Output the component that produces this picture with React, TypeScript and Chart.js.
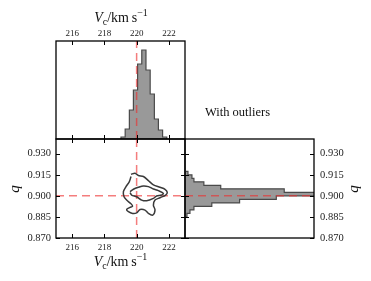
import React, { useEffect, useRef } from "react";
import { Chart, registerables } from "chart.js";

Chart.register(...registerables);

// ---------------- data ----------------
const vcTicks = [216, 218, 220, 222];
const qTicks = [0.87, 0.885, 0.9, 0.915, 0.93];
const vcMin = 215;
const vcMax = 223;
const qMin = 0.87;
const qMax = 0.9405;
const vcTrue = 220;
const qTrue = 0.9;

// V_c marginal histogram (bin edges + counts)
const vcBinEdges = [219.03, 219.29, 219.55, 219.8, 220.06, 220.32, 220.58, 220.84, 221.1, 221.35, 221.61, 221.87];
const vcCounts = [2, 10, 29, 49, 75, 89, 69, 45, 20, 9, 2];
const vcCountMax = 98;

// q marginal histogram (bin edges + counts)
const qBinEdges = [0.885, 0.8875, 0.89, 0.8925, 0.895, 0.8975, 0.9, 0.9025, 0.905, 0.9075, 0.91, 0.9125, 0.915, 0.9175];
const qCounts = [2, 5, 9, 27, 55, 92, 145, 100, 36, 19, 9, 7, 3];
const qCountMax = 130;

// contour levels (closed curves)
const outerV = [219.65, 219.9, 220.11, 220.42, 220.73, 221.04, 221.45, 221.76, 221.9, 221.8, 221.45, 221.14, 221.04, 221.14, 221.0, 220.73, 220.52, 220.21, 220.0, 219.75, 219.49, 219.38, 219.59, 219.75, 219.63, 219.38, 219.22, 219.18, 219.34, 219.55, 219.65];
const outerQ = [0.9154, 0.9161, 0.9145, 0.9138, 0.9109, 0.9078, 0.9061, 0.9047, 0.9025, 0.9006, 0.8987, 0.897, 0.8934, 0.8899, 0.8863, 0.8875, 0.8899, 0.8903, 0.8879, 0.8875, 0.8887, 0.8903, 0.8918, 0.8927, 0.8946, 0.897, 0.8994, 0.903, 0.9066, 0.9102, 0.9138];
const innerV = [219.59, 219.8, 220.11, 220.42, 220.73, 221.04, 221.35, 221.66, 221.55, 221.24, 221.04, 220.62, 220.31, 220.0, 219.69, 219.59];
const innerQ = [0.903, 0.9047, 0.9061, 0.9071, 0.9066, 0.9049, 0.9037, 0.9018, 0.9006, 0.8999, 0.8982, 0.8965, 0.897, 0.8994, 0.9006, 0.9023];

const annotationText = "With outliers";

// ---------------- helpers ----------------
const W = 371;
const H = 281;
const RED = "rgba(238,45,45,0.62)";
const HIST_FILL = "rgba(0,0,0,0.4)";
const HIST_EDGE = "#4a4a4a";
const CONTOUR = "#3a3a3a";
const TICK_FONT_X = { family: "'Liberation Serif', serif", size: 9 };
const TICK_FONT_Y = { family: "'Liberation Serif', serif", size: 10.5 };

function histVertical(edges: number[], counts: number[]) {
  const pts: { x: number; y: number }[] = [{ x: edges[0], y: 0 }];
  counts.forEach((c, i) => {
    pts.push({ x: edges[i], y: c });
    pts.push({ x: edges[i + 1], y: c });
  });
  pts.push({ x: edges[edges.length - 1], y: 0 });
  return pts;
}

function histHorizontal(edges: number[], counts: number[]) {
  const pts: { x: number; y: number }[] = [{ x: 0, y: edges[0] }];
  counts.forEach((c, i) => {
    pts.push({ x: c, y: edges[i] });
    pts.push({ x: c, y: edges[i + 1] });
  });
  pts.push({ x: 0, y: edges[edges.length - 1] });
  pts.push({ x: 0, y: edges[0] });
  return pts;
}

function zip(xs: number[], ys: number[]) {
  return xs.map((x, i) => ({ x, y: ys[i] }));
}

function framePlugin(sides: { xTop?: boolean; xBottom?: boolean; yLeft?: boolean; yRight?: boolean }) {
  return {
    id: "frameTicks",
    afterDraw(chart: any) {
      const { ctx, chartArea: a, scales } = chart;
      const tl = 4;
      ctx.save();
      ctx.strokeStyle = "#000";
      ctx.lineWidth = 1;
      if (sides.xTop || sides.xBottom) {
        for (const t of scales.x.ticks) {
          const px = Math.round(scales.x.getPixelForValue(t.value)) + 0.5;
          ctx.beginPath();
          if (sides.xTop) {
            ctx.moveTo(px, a.top);
            ctx.lineTo(px, a.top + tl);
          }
          if (sides.xBottom) {
            ctx.moveTo(px, a.bottom);
            ctx.lineTo(px, a.bottom - tl);
          }
          ctx.stroke();
        }
      }
      if (sides.yLeft || sides.yRight) {
        for (const t of scales.y.ticks) {
          const py = Math.round(scales.y.getPixelForValue(t.value)) + 0.5;
          ctx.beginPath();
          if (sides.yLeft) {
            ctx.moveTo(a.left, py);
            ctx.lineTo(a.left + tl, py);
          }
          if (sides.yRight) {
            ctx.moveTo(a.right, py);
            ctx.lineTo(a.right - tl, py);
          }
          ctx.stroke();
        }
      }
      ctx.lineWidth = 1.3;
      ctx.strokeRect(a.left, a.top, a.right - a.left, a.bottom - a.top);
      ctx.restore();
    },
  };
}

const lineDs = (data: any[], color: string, width: number, extra: any = {}) => ({
  data,
  showLine: true,
  borderColor: color,
  borderWidth: width,
  pointRadius: 0,
  fill: false,
  ...extra,
});

const baseOpts = {
  responsive: false,
  maintainAspectRatio: false,
  animation: false as const,
  events: [] as any[],
  plugins: { legend: { display: false }, tooltip: { enabled: false } },
};

function TopHist() {
  const ref = useRef<HTMLCanvasElement>(null);
  useEffect(() => {
    const chart = new Chart(ref.current!, {
      type: "scatter",
      data: {
        datasets: [
          lineDs(
            [
              { x: vcTrue, y: 0 },
              { x: vcTrue, y: vcCountMax },
            ],
            RED,
            1.5,
            { borderDash: [8, 5] }
          ),
          lineDs(histVertical(vcBinEdges, vcCounts), HIST_EDGE, 1.2, {
            fill: "origin",
            backgroundColor: HIST_FILL,
          }),
        ],
      },
      options: {
        ...baseOpts,
        layout: { padding: { left: 56, top: 0, right: W - 185, bottom: H - 139 } },
        scales: {
          x: {
            type: "linear",
            position: "top",
            min: vcMin,
            max: vcMax,
            afterBuildTicks: (s: any) => {
              s.ticks = vcTicks.map((v) => ({ value: v }));
            },
            afterFit: (s: any) => {
              s.height = 41;
            },
            grid: { display: false, drawTicks: false },
            border: { display: false },
            ticks: {
              padding: 2,
              autoSkip: false,
              maxRotation: 0,
              font: TICK_FONT_X,
              color: "#222",
              callback: (v: any) => Number(v).toFixed(0),
            },
          },
          y: { type: "linear", display: false, min: 0, max: vcCountMax },
        },
      } as any,
      plugins: [framePlugin({ xTop: true, xBottom: true })],
    });
    return () => chart.destroy();
  }, []);
  return <canvas ref={ref} width={W} height={H} style={{ position: "absolute", left: 0, top: 0 }} />;
}

function Joint() {
  const ref = useRef<HTMLCanvasElement>(null);
  useEffect(() => {
    const chart = new Chart(ref.current!, {
      type: "scatter",
      data: {
        datasets: [
          lineDs(zip(outerV, outerQ), CONTOUR, 1.5, { tension: 0.3 }),
          lineDs(zip(innerV, innerQ), CONTOUR, 1.5, { tension: 0.3 }),
          lineDs(
            [
              { x: vcTrue, y: qMin },
              { x: vcTrue, y: qMax },
            ],
            RED,
            1.5,
            { borderDash: [8, 5] }
          ),
          lineDs(
            [
              { x: vcMin, y: qTrue },
              { x: vcMax, y: qTrue },
            ],
            RED,
            1.5,
            { borderDash: [8, 5] }
          ),
        ],
      },
      options: {
        ...baseOpts,
        layout: { padding: { left: 0, top: 139, right: W - 185, bottom: 0 } },
        scales: {
          x: {
            type: "linear",
            position: "bottom",
            min: vcMin,
            max: vcMax,
            afterBuildTicks: (s: any) => {
              s.ticks = vcTicks.map((v) => ({ value: v }));
            },
            afterFit: (s: any) => {
              s.height = H - 238;
            },
            grid: { display: false, drawTicks: false },
            border: { display: false },
            ticks: {
              padding: 4,
              autoSkip: false,
              maxRotation: 0,
              font: TICK_FONT_X,
              color: "#222",
              callback: (v: any) => Number(v).toFixed(0),
            },
          },
          y: {
            type: "linear",
            position: "left",
            min: qMin,
            max: qMax,
            afterBuildTicks: (s: any) => {
              s.ticks = qTicks.map((v) => ({ value: v }));
            },
            afterFit: (s: any) => {
              s.width = 56;
            },
            grid: { display: false, drawTicks: false },
            border: { display: false },
            ticks: {
              padding: 5,
              autoSkip: false,
              font: TICK_FONT_Y,
              color: "#222",
              callback: (v: any) => Number(v).toFixed(3),
            },
          },
        },
      } as any,
      plugins: [framePlugin({ xTop: true, xBottom: true, yLeft: true, yRight: true })],
    });
    return () => chart.destroy();
  }, []);
  return <canvas ref={ref} width={W} height={H} style={{ position: "absolute", left: 0, top: 0 }} />;
}

function RightHist() {
  const ref = useRef<HTMLCanvasElement>(null);
  useEffect(() => {
    const chart = new Chart(ref.current!, {
      type: "scatter",
      data: {
        datasets: [
          lineDs(
            [
              { x: 0, y: qTrue },
              { x: qCountMax, y: qTrue },
            ],
            RED,
            1.5,
            { borderDash: [8, 5] }
          ),
          lineDs(histHorizontal(qBinEdges, qCounts), HIST_EDGE, 1.2, {
            fill: "shape",
            backgroundColor: HIST_FILL,
          }),
        ],
      },
      options: {
        ...baseOpts,
        layout: { padding: { left: 185, top: 139, right: 0, bottom: H - 238 } },
        scales: {
          x: { type: "linear", display: false, min: 0, max: qCountMax },
          y: {
            type: "linear",
            position: "right",
            min: qMin,
            max: qMax,
            afterBuildTicks: (s: any) => {
              s.ticks = qTicks.map((v) => ({ value: v }));
            },
            afterFit: (s: any) => {
              s.width = W - 314;
            },
            grid: { display: false, drawTicks: false },
            border: { display: false },
            ticks: {
              padding: 6,
              autoSkip: false,
              font: TICK_FONT_Y,
              color: "#222",
              callback: (v: any) => Number(v).toFixed(3),
            },
          },
        },
      } as any,
      plugins: [framePlugin({ yLeft: true, yRight: true })],
    });
    return () => chart.destroy();
  }, []);
  return <canvas ref={ref} width={W} height={H} style={{ position: "absolute", left: 0, top: 0 }} />;
}

const serif = "'Liberation Serif', 'DejaVu Serif', serif";

function VcLabel({ cx, cy }: { cx: number; cy: number }) {
  return (
    <div
      style={{
        position: "absolute",
        left: cx,
        top: cy,
        transform: "translate(-50%, -50%)",
        fontFamily: serif,
        fontSize: 14,
        lineHeight: 1,
        whiteSpace: "nowrap",
        color: "#111",
      }}
    >
      <i>V</i>
      <span style={{ fontSize: 10, position: "relative", top: 3 }}>c</span>
      <span>/km&#8201;s</span>
      <span style={{ fontSize: 10, position: "relative", top: -6 }}>−1</span>
    </div>
  );
}

function QLabel({ cx, cy }: { cx: number; cy: number }) {
  return (
    <div
      style={{
        position: "absolute",
        left: cx,
        top: cy,
        transform: "translate(-50%, -50%) rotate(-90deg)",
        fontFamily: serif,
        fontSize: 15,
        fontStyle: "italic",
        lineHeight: 1,
        color: "#111",
      }}
    >
      q
    </div>
  );
}

export default function App() {
  return (
    <div style={{ position: "fixed", left: 0, top: 0, width: W, height: H, background: "#fff", overflow: "hidden" }}>
      <TopHist />
      <Joint />
      <RightHist />
      <VcLabel cx={121} cy={18} />
      <VcLabel cx={120.5} cy={262} />
      <QLabel cx={14} cy={189} />
      <QLabel cx={353} cy={189} />
      <div
        style={{
          position: "absolute",
          left: 205,
          top: 112,
          transform: "translateY(-50%)",
          fontFamily: serif,
          fontSize: 12.5,
          lineHeight: 1,
          whiteSpace: "nowrap",
          color: "#111",
        }}
      >
        {annotationText}
      </div>
    </div>
  );
}
